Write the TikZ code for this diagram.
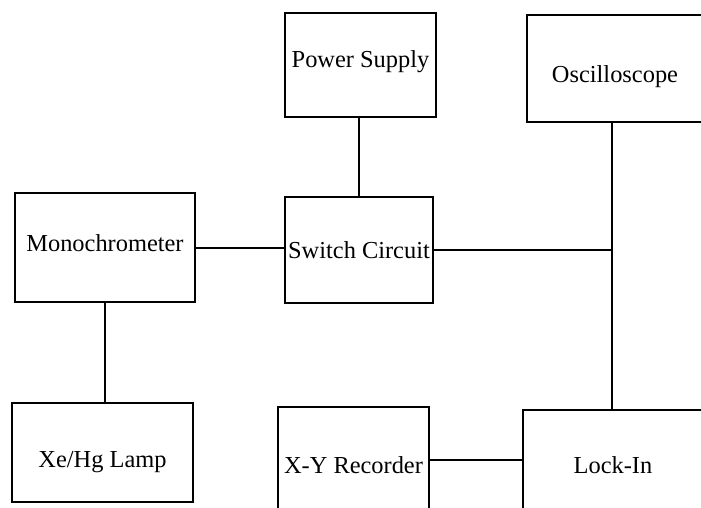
\documentclass[tikz,border=0pt]{standalone}
\usepackage{fontspec}
\setmainfont{Liberation Serif}
\usepackage{tikz}
\usetikzlibrary{positioning, calc}

% move a label down / up inside its box
\newcommand{\dropby}[2]{\raisebox{0pt}[\dimexpr\height+#1\relax][\depth]{#2}}
\newcommand{\liftby}[2]{\raisebox{0pt}[\height][\dimexpr\depth+#1\relax]{#2}}

\begin{document}
\begin{tikzpicture}[x=0.5pt, y=-0.5pt, line width=1pt,
    unit/.style={draw, line width=1pt, inner sep=0pt, font=\fontsize{12.2pt}{14pt}\selectfont},
    wire/.style={line width=1pt}]
    \useasboundingbox (0,0) rectangle (701,508);

    % Top row
    \node[unit, minimum width=75.5pt, minimum height=52pt] (power) at (360.5,65) {\liftby{3pt}{Power Supply}};
    \node[unit, minimum width=88pt, minimum height=53.5pt] (osc) at (615,68.5) {\dropby{8.5pt}{Oscilloscope}};

    % Middle row
    \node[unit, minimum width=90pt, minimum height=54.5pt] (mono) at (105,247.5) {\liftby{4.5pt}{Monochrometer}};
    \node[unit, minimum width=74pt, minimum height=53pt] (switch) at (359,250) {Switch Circuit};

    % Bottom row
    \node[unit, minimum width=90.5pt, minimum height=49.5pt] (lamp) at (102.5,452.5) {\dropby{9.5pt}{Xe/Hg Lamp}};
    \node[unit, minimum width=75.5pt, minimum height=52.5pt] (xy) at (353.5,459.5) {\dropby{5.5pt}{X-Y Recorder}};
    \node[unit, minimum width=90pt, minimum height=51pt] (lockin) at (613,461) {\dropby{4pt}{Lock-In}};

    % Connections
    \coordinate (tap) at ($(osc.south |- switch.east)+(-3,0)$);
    \draw[wire] (switch.north) -- (switch.north |- power.south);
    \draw[wire] (mono.east) -- (mono.east -| switch.west);
    \draw[wire] (mono.south) -- (mono.south |- lamp.north);
    \draw[wire] (switch.east) -- (tap);
    \draw[wire] ($(osc.south)+(-3,0)$) -- ($(osc.south |- lockin.north)+(-3,0)$);
    \draw[wire] (xy.east) -- (xy.east -| lockin.west);
\end{tikzpicture}
\end{document}
